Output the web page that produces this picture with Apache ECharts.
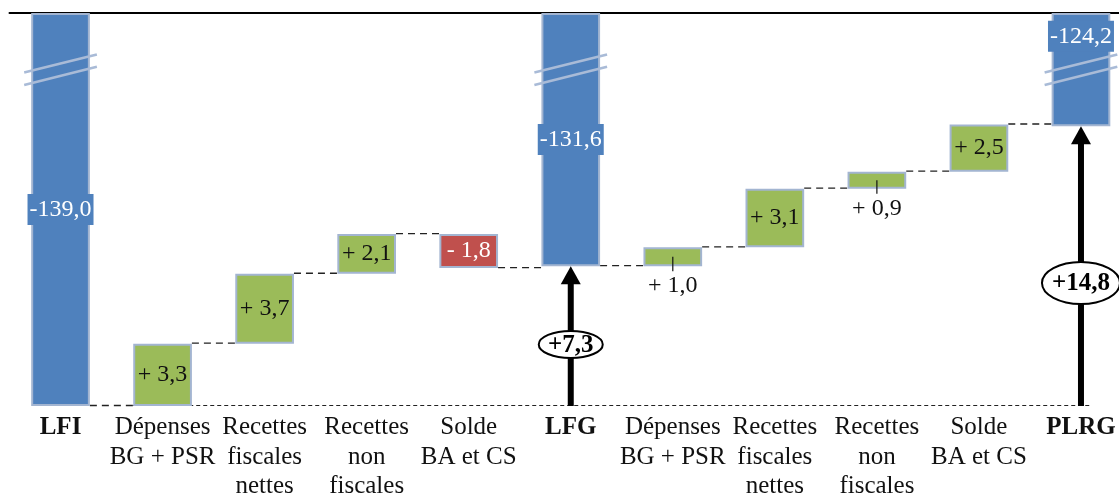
<!DOCTYPE html>
<html><head><meta charset="utf-8">
<script src="https://cdn.jsdelivr.net/npm/echarts@6/dist/echarts.min.js"></script>
<style>html,body{margin:0;padding:0;background:#fff}#c{width:1119px;height:494px}</style>
</head><body><div id="c"></div>
<script>
// ---- data ----
const categories = ['LFI', 'Dépenses\nBG + PSR', 'Recettes\nfiscales\nnettes', 'Recettes\nnon\nfiscales', 'Solde\nBA et CS', 'LFG', 'Dépenses\nBG + PSR', 'Recettes\nfiscales\nnettes', 'Recettes\nnon\nfiscales', 'Solde\nBA et CS', 'PLRG'];
const values = [-139.0, 3.3, 3.7, 2.1, -1.8, -131.6, 1.0, 3.1, 0.9, 2.5, -124.2];
const isTotal = [true, false, false, false, false, true, false, false, false, false, true];
const arrowFrom = [0, 0];
const arrowTo = [5, 10];
const arrowLabels = ['+7,3', '+14,8'];
const yMin = -139.0;
const yMax = -118.2;
const breakValue = -121.2;

// ---- styles ----
const FONT = '"Liberation Serif", "DejaVu Serif", serif';
const BAR = 0.575;
const C_BLUE = '#4F81BD', C_GREEN = '#9BBB59', C_RED = '#C0504D', C_EDGE = '#A3B5D1';

function fmt(v, total) {
  const s = Math.abs(v).toFixed(1).replace('.', ',');
  if (total) return (v < 0 ? '-' : '') + s;
  return (v >= 0 ? '+ ' : '- ') + s;
}

// ---- derived rows ----
const n = categories.length;
const rows = [], links = [];
let run = 0;
for (let i = 0; i < n; i++) {
  const v = values[i];
  if (isTotal[i]) { rows.push([i, v, yMax, 0]); run = v; }
  else { const e = run + v; rows.push([i, Math.min(run, e), Math.max(run, e), v >= 0 ? 1 : 2]); run = e; }
  if (i < n - 1) links.push([i, run]);
}
const arrows = arrowTo.map((t, k) => [t, values[arrowFrom[k]], values[t], k]);

const chart = echarts.init(document.getElementById('c'), null, { renderer: 'canvas' });
chart.setOption({
  animation: false,
  backgroundColor: '#fff',
  grid: { left: 9.5, top: 13, width: 1122.5, bottom: 88, outerBoundsMode: 'none', containLabel: false },
  xAxis: [{
    type: 'category', data: categories, position: 'bottom',
    axisLine: { show: false }, axisTick: { show: false }, splitLine: { show: false },
    axisLabel: {
      interval: 0, margin: 7, color: '#111', fontFamily: FONT, fontSize: 25, lineHeight: 29.5,
      formatter: (val, idx) => isTotal[idx] ? '{b|' + val + '}' : val,
      rich: { b: { fontFamily: FONT, fontSize: 25, fontWeight: 'bold', color: '#111', lineHeight: 29.5 } }
    }
  }, {
    type: 'category', data: categories, position: 'top',
    axisLine: { show: true, lineStyle: { color: '#000', width: 2 } },
    axisTick: { show: false }, axisLabel: { show: false }, splitLine: { show: false }
  }],
  yAxis: { type: 'value', min: yMin, max: yMax, show: false, splitLine: { show: false } },
  series: [
    { // baseline dotted
      type: 'custom', silent: true, z: 1,
      data: [[1, n - 1, yMin]],
      encode: { x: 0, y: 2 },
      renderItem(params, api) {
        const band = api.size([1, 0])[0], bw = band * BAR;
        const a = api.coord([api.value(0), api.value(2)]);
        const b = api.coord([api.value(1), api.value(2)]);
        return { type: 'line', shape: { x1: a[0] - bw / 2, y1: a[1] - 0.5, x2: b[0] + band * 0.09, y2: b[1] - 0.5 },
          style: { stroke: '#222', lineWidth: 1.2, lineDash: [4, 3] } };
      }
    },
    { // connectors
      type: 'custom', silent: true, z: 2,
      data: links,
      encode: { x: 0, y: 1 },
      renderItem(params, api) {
        const i = api.value(0), lvl = api.value(1);
        const band = api.size([1, 0])[0], bw = band * BAR;
        const a = api.coord([i, lvl]), b = api.coord([i + 1, lvl]);
        return { type: 'line', shape: { x1: a[0] + bw / 2, y1: a[1] - 0.5, x2: b[0] - bw / 2, y2: b[1] - 0.5 },
          style: { stroke: '#222', lineWidth: 1.3, lineDash: [7, 5] } };
      }
    },
    { // bars
      type: 'custom', silent: true, z: 3,
      data: rows,
      encode: { x: 0, y: [1, 2] },
      renderItem(params, api) {
        const i = api.value(0), low = api.value(1), high = api.value(2), kind = api.value(3);
        const band = api.size([1, 0])[0], bw = band * BAR;
        const pl = api.coord([i, low]), ph = api.coord([i, high]);
        const cx = pl[0], x = cx - bw / 2, y0 = ph[1], y1 = pl[1], h = y1 - y0;
        const fill = kind === 0 ? C_BLUE : (kind === 1 ? C_GREEN : C_RED);
        const ch = [{ type: 'rect', shape: { x: x + 1, y: y0 + 1, width: bw - 2, height: h - 2 },
          style: { fill: fill, stroke: C_EDGE, lineWidth: 2 } }];
        const txt = fmt(values[i], kind === 0);
        if (kind === 0) {
          const by = api.coord([i, breakValue])[1];
          const sl = 0.25, ext = 7, L = x - ext, R = x + bw + ext, hw = (R - L) / 2;
          [-6.2, 6.2].forEach(off => {
            ch.push({ type: 'line', shape: { x1: L, y1: by + off + hw * sl, x2: R, y2: by + off - hw * sl },
              style: { stroke: '#A9BBD7', lineWidth: 2.6 } });
          });
          let ly = (y0 + y1) / 2;
          if (Math.abs(ly - by) < 35) ly = (y0 + by - 10) / 2;
          ch.push({ type: 'text', x: cx, y: ly, style: { text: txt, fill: '#fff', font: '24px ' + FONT,
            align: 'center', verticalAlign: 'middle', backgroundColor: C_BLUE, padding: [4, 2, 3, 2] } });
        } else if (h < 28) {
          ch.push({ type: 'line', shape: { x1: cx, y1: (y0 + y1) / 2, x2: cx, y2: y1 + 5 }, style: { stroke: '#111', lineWidth: 1.2 } });
          ch.push({ type: 'text', x: cx, y: y1 + 20, style: { text: txt, fill: '#111', font: '24px ' + FONT,
            align: 'center', verticalAlign: 'middle' } });
        } else {
          ch.push({ type: 'text', x: cx, y: (y0 + y1) / 2, style: { text: txt, fill: kind === 2 ? '#fff' : '#111',
            font: '24px ' + FONT, align: 'center', verticalAlign: 'middle' } });
        }
        return { type: 'group', children: ch };
      }
    },
    { // arrows
      type: 'custom', silent: true, z: 4,
      data: arrows,
      encode: { x: 0, y: [1, 2] },
      renderItem(params, api) {
        const t = api.value(0), k = api.value(3);
        const pf = api.coord([t, api.value(1)]), pt = api.coord([t, api.value(2)]);
        const x = pf[0], yb = pf[1], yt = pt[1];
        const headH = 18, headW = 10;
        const ey = yb - 0.44 * (yb - yt);
        const rx = k === 0 ? 32 : 39, ry = k === 0 ? 13.5 : 21;
        return { type: 'group', children: [
          { type: 'line', shape: { x1: x, y1: yb, x2: x, y2: yt + headH - 1 }, style: { stroke: '#000', lineWidth: 6 } },
          { type: 'polygon', shape: { points: [[x, yt], [x - headW, yt + headH], [x + headW, yt + headH]] }, style: { fill: '#000' } },
          { type: 'ellipse', shape: { cx: x, cy: ey, rx: rx, ry: ry }, style: { fill: '#fff', stroke: '#000', lineWidth: 2 } },
          { type: 'text', x: x, y: ey + 1, style: { text: arrowLabels[k], fill: '#000', font: 'bold 25px ' + FONT,
            align: 'center', verticalAlign: 'middle' } }
        ] };
      }
    }
  ]
});
</script>
</body></html>
